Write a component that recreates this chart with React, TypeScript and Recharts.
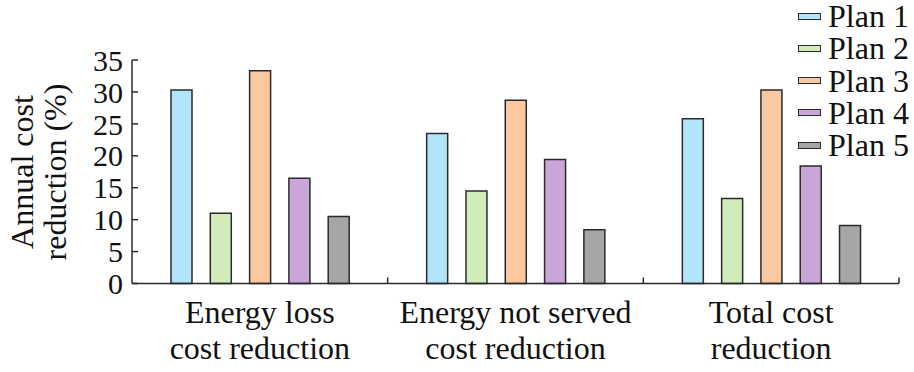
import React from 'react';
import { BarChart, Bar, XAxis, YAxis, Legend } from 'recharts';

const categories = ['Energy loss|cost reduction', 'Energy not served|cost reduction', 'Total cost|reduction'];
const planNames = ['Plan 1', 'Plan 2', 'Plan 3', 'Plan 4', 'Plan 5'];
const plan1 = [30.3, 23.5, 25.8];
const plan2 = [11.0, 14.5, 13.3];
const plan3 = [33.3, 28.7, 30.3];
const plan4 = [16.5, 19.4, 18.4];
const plan5 = [10.5, 8.4, 9.1];
const yTicks = [0, 5, 10, 15, 20, 25, 30, 35];

const planColors = ['#b3e5fa', '#d1ebb9', '#fcc8a0', '#caa6d8', '#a6a6a6'];
const series = [plan1, plan2, plan3, plan4, plan5];
const keys = ['p1', 'p2', 'p3', 'p4', 'p5'];

const data = categories.map((c, i) => {
  const row: any = { name: c };
  keys.forEach((k, j) => {
    row[k] = series[j][i];
  });
  return row;
});

const FONT = '"Liberation Serif", "Times New Roman", serif';
const INK = '#2b2b2b';

const XTick = (props: any) => {
  const { x, y, payload } = props;
  const lines = String(payload.value).split('|');
  const boundary = payload.coordinate + (payload.offset || 0);
  return (
    <g>
      <line x1={boundary} x2={boundary} y1={y} y2={y - 6} stroke={INK} strokeWidth={1.5} />
      <text x={x} y={y} textAnchor="middle" fontFamily={FONT} fontSize={32} fill="#111">
        {lines.map((l, i) => (
          <tspan key={i} x={x} y={y + 39.5 + i * 36}>
            {l}
          </tspan>
        ))}
      </text>
    </g>
  );
};

const YLabel = () => (
  <text transform="rotate(-90)" fontFamily={FONT} fontSize={32} fill="#111" textAnchor="middle">
    <tspan x={-172} y={33}>Annual cost</tspan>
    <tspan x={-172} y={66}>reduction (%)</tspan>
  </text>
);

const renderLegend = () => (
  <div style={{ fontFamily: FONT, fontSize: 32, color: '#111' }}>
    {planNames.map((n, i) => (
      <div key={n} style={{ display: 'flex', alignItems: 'center', height: 32.25, lineHeight: '32.25px', whiteSpace: 'nowrap' }}>
        <span
          style={{
            display: 'inline-block',
            width: 21,
            height: 5,
            background: planColors[i],
            border: `1.5px solid ${INK}`,
            marginRight: 7,
          }}
        />
        <span>{n}</span>
      </div>
    ))}
  </div>
);

export default function App() {
  return (
    <div style={{ position: 'absolute', left: 0, top: 0, width: 914, height: 372, background: '#fff' }}>
      <BarChart
        width={914}
        height={372}
        data={data}
        margin={{ top: 60, right: 15, bottom: 0, left: 0 }}
        barSize={21}
        barGap={18.3}
      >
        <XAxis
          dataKey="name"
          height={88.5}
          axisLine={{ stroke: INK, strokeWidth: 1.5 }}
          tickLine={false}
          tickSize={0}
          tickMargin={0}
          interval={0}
          tick={<XTick />}
        />
        <YAxis
          width={132}
          domain={[0, 35]}
          ticks={yTicks}
          interval={0}
          axisLine={{ stroke: INK, strokeWidth: 1.5 }}
          tickLine={{ stroke: INK, strokeWidth: 1.5 }}
          tickSize={-6}
          tickMargin={15}
          tick={{ fontFamily: FONT, fontSize: 30, fill: '#111' }}
          label={<YLabel />}
        />
        <Legend
          layout="vertical"
          align="center"
          verticalAlign="middle"
          wrapperStyle={{ left: 798, top: 0, width: 116, height: 170 }}
          content={renderLegend}
        />
        {keys.map((k, j) => (
          <Bar
            key={k}
            dataKey={k}
            name={planNames[j]}
            fill={planColors[j]}
            stroke={INK}
            strokeWidth={1.5}
            isAnimationActive={false}
          />
        ))}
      </BarChart>
    </div>
  );
}
